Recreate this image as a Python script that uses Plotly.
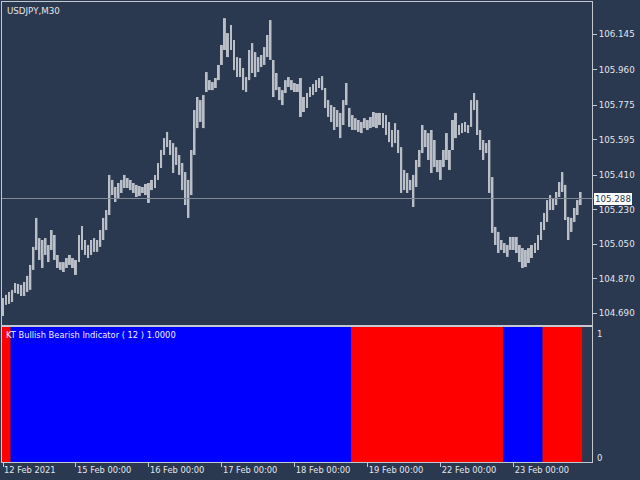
import plotly.graph_objects as go

# ---- data (USDJPY, one value pair per hour) ----
bar_high = [
    104.770, 104.786, 104.801, 104.812, 104.848, 104.843, 104.838, 104.853, 104.885, 104.942,
    105.036, 105.187, 105.082, 105.072, 105.082, 105.046, 105.124, 105.098, 104.994, 104.957,
    104.957, 104.978, 104.994, 104.978, 104.968, 105.098, 105.145, 105.072, 105.046, 105.072,
    105.082, 105.072, 105.124, 105.187, 105.228, 105.411, 105.385, 105.348, 105.369, 105.385,
    105.411, 105.395, 105.385, 105.369, 105.359, 105.353, 105.348, 105.364, 105.369, 105.385,
    105.411, 105.473, 105.541, 105.603, 105.635, 105.593, 105.577, 105.556, 105.515, 105.473,
    105.426, 105.385, 105.541, 105.749, 105.817, 105.801, 105.827, 105.947, 105.905, 105.895,
    105.916, 105.984, 106.088, 106.228, 106.150, 106.192, 106.114, 106.025, 106.020, 105.968,
    105.921, 106.062, 106.098, 106.051, 106.025, 106.036, 106.077, 106.140, 106.218, 106.010,
    105.942, 105.869, 105.853, 105.905, 105.921, 105.905, 105.890, 105.885, 105.916, 105.817,
    105.838, 105.869, 105.885, 105.905, 105.916, 105.926, 105.864, 105.801, 105.775, 105.765,
    105.749, 105.734, 105.801, 105.890, 105.760, 105.723, 105.707, 105.697, 105.687, 105.707,
    105.697, 105.713, 105.739, 105.734, 105.734, 105.734, 105.723, 105.687, 105.645, 105.681,
    105.645, 105.556, 105.437, 105.421, 105.385, 105.411, 105.489, 105.541, 105.671, 105.645,
    105.629, 105.645, 105.593, 105.489, 105.489, 105.541, 105.629, 105.541, 105.697, 105.734,
    105.671, 105.681, 105.687, 105.671, 105.801, 105.838, 105.801, 105.645, 105.593, 105.577,
    105.593, 105.400, 105.140, 105.114, 105.072, 105.056, 105.046, 105.088, 105.088, 105.088,
    105.046, 105.030, 105.020, 105.030, 105.046, 105.056, 105.098, 105.166, 105.213, 105.280,
    105.306, 105.291, 105.322, 105.374, 105.426, 105.359, 105.192, 105.187, 105.239, 105.280,
    105.322,
]
bar_low = [
    104.676, 104.734, 104.739, 104.749, 104.796, 104.791, 104.780, 104.780, 104.801, 104.812,
    104.916, 105.020, 104.968, 104.926, 104.994, 104.957, 105.020, 104.968, 104.926, 104.916,
    104.905, 104.926, 104.942, 104.926, 104.890, 104.957, 105.020, 104.994, 104.978, 104.994,
    105.010, 105.010, 105.036, 105.072, 105.124, 105.202, 105.306, 105.270, 105.291, 105.317,
    105.343, 105.343, 105.332, 105.317, 105.296, 105.301, 105.317, 105.306, 105.265, 105.332,
    105.343, 105.385, 105.447, 105.515, 105.556, 105.515, 105.421, 105.463, 105.411, 105.332,
    105.254, 105.187, 105.306, 105.515, 105.655, 105.687, 105.655, 105.843, 105.853, 105.853,
    105.864, 105.905, 105.984, 106.062, 106.025, 106.062, 105.957, 105.921, 105.921, 105.853,
    105.843, 105.905, 105.942, 105.921, 105.947, 105.973, 105.984, 106.025, 106.010, 105.817,
    105.853, 105.801, 105.775, 105.838, 105.869, 105.853, 105.843, 105.843, 105.713, 105.739,
    105.760, 105.817, 105.827, 105.843, 105.864, 105.853, 105.760, 105.713, 105.687, 105.645,
    105.661, 105.603, 105.671, 105.775, 105.661, 105.645, 105.645, 105.635, 105.629, 105.655,
    105.645, 105.655, 105.661, 105.655, 105.671, 105.655, 105.619, 105.582, 105.556, 105.577,
    105.525, 105.317, 105.332, 105.317, 105.332, 105.244, 105.348, 105.452, 105.525, 105.556,
    105.489, 105.421, 105.452, 105.426, 105.385, 105.452, 105.489, 105.437, 105.541, 105.603,
    105.619, 105.629, 105.635, 105.629, 105.661, 105.749, 105.619, 105.541, 105.489, 105.525,
    105.317, 105.109, 105.046, 105.004, 105.020, 105.004, 104.984, 105.020, 105.020, 105.004,
    104.957, 104.926, 104.931, 104.952, 104.978, 105.004, 105.020, 105.072, 105.124, 105.166,
    105.228, 105.228, 105.254, 105.296, 105.322, 105.176, 105.072, 105.114, 105.166, 105.202,
    105.254,
]
last_price = 105.288

price_ticks = [106.145, 105.960, 105.775, 105.595, 105.410, 105.230, 105.050, 104.870, 104.690]

day_tick_index = [0, 24, 48, 72, 96, 120, 144, 168]
day_tick_labels = ["12 Feb 2021", "15 Feb 00:00", "16 Feb 00:00", "17 Feb 00:00",
                   "18 Feb 00:00", "19 Feb 00:00", "22 Feb 00:00", "23 Feb 00:00"]

# indicator segments (inclusive bar index ranges) and their state
signal_start = [0, 3, 115, 165, 178]
signal_end = [2, 114, 164, 177, 190]
signal_state = ["bearish", "bullish", "bearish", "bullish", "bearish"]

# ---- styling ----
BG = "#2a3850"
LINE = "#c4c8d0"
TXT = "#e4e6ea"
BAR = "#b9bec7"
FONT = "DejaVu Sans"
state_color = {"bullish": "#0000ff", "bearish": "#ff0000"}

idx = list(range(len(bar_high)))
spans = [h - l for h, l in zip(bar_high, bar_low)]

fig = go.Figure()
fig.add_trace(go.Bar(
    x=idx, y=spans, base=bar_low, width=0.65,
    marker=dict(color=BAR, line=dict(width=0)),
    xaxis="x", yaxis="y", hoverinfo="skip", showlegend=False,
))

seg_x = [(s + e) / 2 for s, e in zip(signal_start, signal_end)]
seg_w = [e - s + 1 for s, e in zip(signal_start, signal_end)]
fig.add_trace(go.Bar(
    x=seg_x, y=[1] * len(seg_x), width=seg_w,
    marker=dict(color=[state_color[s] for s in signal_state], line=dict(width=0)),
    xaxis="x2", yaxis="y2", hoverinfo="skip", showlegend=False,
))

xr = [-0.33, 193.75]
axis_common = dict(showgrid=False, zeroline=False, showline=True, mirror=True,
                   linecolor=LINE, linewidth=1)

fig.update_layout(
    width=640, height=480,
    margin=dict(l=2, r=48, t=2, b=18, autoexpand=False),
    paper_bgcolor=BG, plot_bgcolor=BG,
    font=dict(family=FONT, size=9, color=TXT),
    barmode="overlay",
    xaxis=dict(domain=[0, 1], anchor="y", range=xr, showticklabels=False,
               ticks="", **axis_common),
    xaxis2=dict(domain=[0, 1], anchor="y2", range=xr, matches="x",
                tickmode="array", tickvals=day_tick_index, ticktext=day_tick_labels,
                ticks="outside", ticklen=4, tickcolor=LINE,
                ticklabelposition="outside right",
                tickfont=dict(family=FONT, size=8.3, color=TXT), **axis_common),
    yaxis=dict(domain=[0.2978, 1], anchor="x", range=[104.629, 106.312], side="right",
               tickmode="array", tickvals=price_ticks,
               ticktext=[f"{p:.3f}" for p in price_ticks],
               ticks="outside", ticklen=4, tickcolor=LINE,
               tickfont=dict(family=FONT, size=8.7, color=TXT), **axis_common),
    yaxis2=dict(domain=[0, 0.2935], anchor="x2", range=[0, 1], side="right",
                showticklabels=False, ticks="", **axis_common),
)

# current price line
fig.add_shape(type="line", xref="paper", x0=0, x1=1.004, yref="y",
              y0=last_price, y1=last_price, line=dict(color="#858c98", width=1))

annotations = [
    dict(text="USDJPY,M30", xref="paper", x=0, xanchor="left", xshift=3,
         yref="paper", y=1, yanchor="top", yshift=-2,
         font=dict(family=FONT, size=8.7, color=TXT), showarrow=False),
    dict(text="KT Bullish Bearish Indicator ( 12 ) 1.0000", xref="paper", x=0,
         xanchor="left", xshift=2, yref="y2 domain", y=1, yanchor="top", yshift=-1,
         font=dict(family=FONT, size=8.3, color="#f0f0ff"), showarrow=False),
    dict(text="1", xref="paper", x=1, xanchor="left", xshift=3, yref="y2", y=1,
         yanchor="middle", yshift=-7, font=dict(family=FONT, size=8.5, color=TXT),
         showarrow=False),
    dict(text="0", xref="paper", x=1, xanchor="left", xshift=3, yref="y2", y=0,
         yanchor="middle", yshift=4, font=dict(family=FONT, size=8.5, color=TXT),
         showarrow=False),
    dict(text=f"{last_price:.3f}", xref="paper", x=1, xanchor="left", xshift=2,
         yref="y", y=last_price, yanchor="middle", bgcolor="#ffffff",
         bordercolor="#ffffff", borderpad=0, borderwidth=1,
         font=dict(family=FONT, size=8.7, color="#2a3850"), showarrow=False),
]
fig.update_layout(annotations=annotations)

fig.write_html(
    "out.html",
    config={"displayModeBar": False},
    post_script="document.body.style.margin='0';document.body.style.overflow='hidden';",
)
